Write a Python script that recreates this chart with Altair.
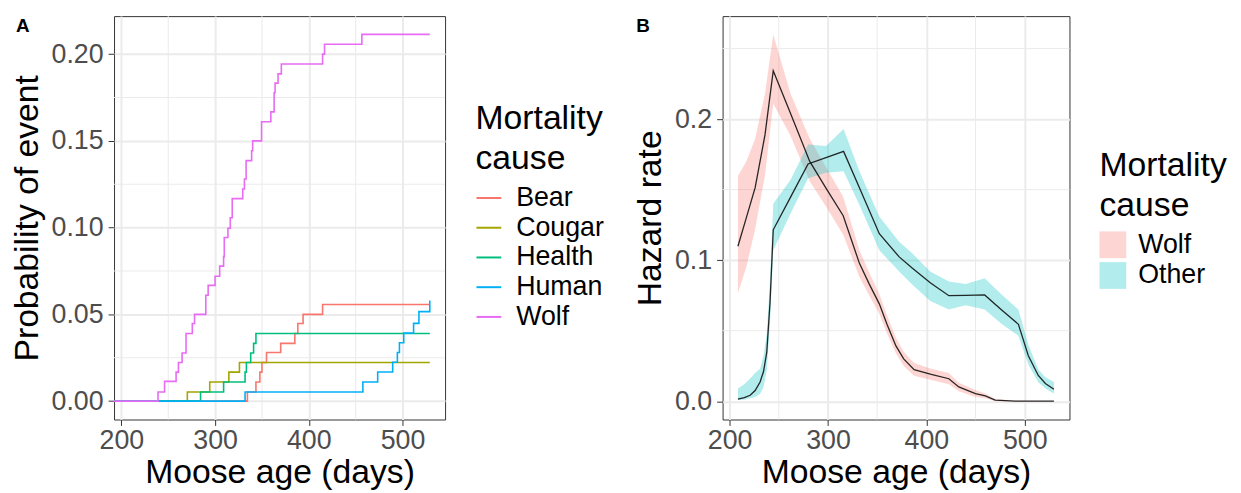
import altair as alt
import pandas as pd

FONT = "Liberation Sans"

# ---------------- Panel A: cumulative incidence (step curves) ----------------
causes = ["Bear", "Cougar", "Health", "Human", "Wolf"]
cause_colors = ["#F8766D", "#A3A500", "#00BF7D", "#00B0F6", "#E76BF3"]

bear_age = [192.2, 334.5, 343.6, 347.8, 350.0, 354.9, 370.0, 385.1, 388.3, 393.9, 414.7, 529.1]
bear_p = [0, 0.0053, 0.0110, 0.0167, 0.0223, 0.0280, 0.0333, 0.0390, 0.0447, 0.0500, 0.0557, 0.0557]

cougar_age = [192.2, 270.4, 294.3, 314.7, 326.0, 529.1]
cougar_p = [0, 0.0053, 0.0110, 0.0167, 0.0223, 0.0223]

health_age = [192.2, 284.5, 309.1, 332.0, 333.4, 338.0, 341.1, 343.6, 529.1]
health_p = [0, 0.0053, 0.0110, 0.0167, 0.0223, 0.0277, 0.0333, 0.0390, 0.0390]

human_age = [192.2, 332.0, 457.7, 473.5, 489.5, 494.5, 496.7, 501.3, 511.8, 517.5, 529.1]
human_p = [0, 0.0053, 0.0110, 0.0168, 0.0224, 0.0280, 0.0336, 0.0392, 0.0448, 0.0516, 0.0580]

wolf_age = [192.2, 239.1, 246.1, 258.4, 260.9, 264.8, 269.0, 275.7, 278.1, 290.1, 292.6,
            300.0, 304.9, 309.1, 309.8, 313.7, 316.2, 318.3, 329.5, 331.3, 333.1, 339.0,
            340.1, 349.6, 359.5, 363.0, 364.0, 367.2, 370.7, 414.7, 416.8, 456.6, 529.1]
wolf_p = [0, 0.0053, 0.0114, 0.0167, 0.0223, 0.0277, 0.0390, 0.0447, 0.0500, 0.0610, 0.0667,
          0.0720, 0.0778, 0.0833, 0.0943, 0.0996, 0.1057, 0.1167, 0.1223, 0.1280, 0.1386, 0.1443,
          0.1500, 0.1610, 0.1667, 0.1777, 0.1833, 0.1886, 0.1943, 0.2000, 0.2057, 0.2114, 0.2114]

a_x_ticks = [200, 300, 400, 500]
a_y_ticks = [0, 0.05, 0.10, 0.15, 0.20]
a_x_minor = [250, 350, 450]
a_y_minor = [0.025, 0.075, 0.125, 0.175]

# ---------------- Panel B: hazard rates with ribbons ----------------
hz_series = ["Wolf", "Other"]
hz_fill = ["#F8766D", "#00BFC4"]

wolf_hz_age = [208.5, 217, 226, 236, 244.4, 262, 281.5, 298, 315.5, 332, 342, 352.2, 360,
               369.1, 377, 387.6, 405, 422.9, 433, 449.9, 460, 470, 490, 510, 529.7]
wolf_hz = [0.1098, 0.1300, 0.1514, 0.1888, 0.2343, 0.2040, 0.1700, 0.1510, 0.1315, 0.0977,
           0.0830, 0.0690, 0.0545, 0.0392, 0.0300, 0.0224, 0.0190, 0.0159, 0.0101, 0.0054,
           0.0038, 0.0007, 0.0, 0.0, 0.0]
wolf_lo = [0.0767, 0.095, 0.122, 0.160, 0.211, 0.188, 0.156, 0.138, 0.118, 0.088, 0.075,
           0.062, 0.048, 0.034, 0.025, 0.018, 0.015, 0.012, 0.007, 0.003, 0.002, 0.0, 0.0, 0.0, 0.0]
wolf_hi = [0.1596, 0.170, 0.186, 0.218, 0.260, 0.218, 0.186, 0.166, 0.145, 0.107, 0.091,
           0.076, 0.061, 0.045, 0.035, 0.027, 0.023, 0.020, 0.013, 0.008, 0.0055, 0.0015,
           0.0003, 0.0001, 0.0001]

other_hz_age = [208.5, 215, 220.9, 226, 231, 234.5, 237.8, 241.1, 244.4, 262, 279.8, 298,
                315.9, 332, 352.2, 372.4, 385.9, 404, 422.9, 440, 459.3, 476, 493.6, 503.7,
                513.8, 521, 529.7]
other_hz = [0.0014, 0.0025, 0.0042, 0.0075, 0.0136, 0.0210, 0.0346, 0.0697, 0.1215, 0.1447,
            0.1682, 0.1727, 0.1771, 0.1514, 0.1187, 0.1023, 0.0942, 0.0840, 0.0748, 0.0750,
            0.0753, 0.0650, 0.0545, 0.0322, 0.0182, 0.0125, 0.0084]
other_lo = [0.001, 0.001, 0.002, 0.003, 0.005, 0.010, 0.022, 0.055, 0.107, 0.133, 0.158,
            0.162, 0.163, 0.139, 0.107, 0.092, 0.0825, 0.071, 0.065, 0.068, 0.065, 0.055,
            0.0463, 0.026, 0.0135, 0.009, 0.0054]
other_hi = [0.0089, 0.012, 0.016, 0.020, 0.0229, 0.032, 0.048, 0.085, 0.140, 0.157, 0.182,
            0.181, 0.193, 0.163, 0.131, 0.113, 0.1047, 0.092, 0.0848, 0.083, 0.0872, 0.076,
            0.065, 0.040, 0.0225, 0.017, 0.0136]

b_x_ticks = [200, 300, 400, 500]
b_y_ticks = [0.0, 0.1, 0.2]
b_x_minor = [250, 350, 450]
b_y_minor = [0.05, 0.15, 0.25]

# ---------------- tables ----------------
rows = []
for name, ages, ps in [("Bear", bear_age, bear_p), ("Cougar", cougar_age, cougar_p),
                       ("Health", health_age, health_p), ("Human", human_age, human_p),
                       ("Wolf", wolf_age, wolf_p)]:
    for i, (a, p) in enumerate(zip(ages, ps)):
        rows.append({"cause": name, "age": a, "prob": p, "i": i})
dfA = pd.DataFrame(rows)

dfW = pd.DataFrame({"cause": "Wolf", "age": wolf_hz_age, "h": wolf_hz, "lo": wolf_lo, "hi": wolf_hi})
dfO = pd.DataFrame({"cause": "Other", "age": other_hz_age, "h": other_hz, "lo": other_lo, "hi": other_hi})

W_A, W_B, H = 334, 350, 407
A_XDOM = [192.2, 545.4]
A_YDOM = [-0.0106, 0.2219]
B_XDOM = [192.9, 545.5]
B_YDOM = [-0.013, 0.273]

GRID = "#EBEBEB"
TITLE_FS = 34
TICK_FS = 27
LAB_FS = 27


def x_axis(vals):
    return alt.Axis(values=vals, title="Moose age (days)", grid=True, gridColor=GRID, gridWidth=2,
                    tickColor="#333333", tickSize=6, labelPadding=2, labelFontSize=TICK_FS,
                    labelColor="#4D4D4D", titleFontSize=TITLE_FS, titleFontWeight="normal",
                    titleColor="black", domain=False, titleY=64, titleBaseline="alphabetic")


def y_axis(vals, fmt, title, tx):
    return alt.Axis(values=vals, format=fmt, title=title, grid=True, gridColor=GRID, gridWidth=2,
                    tickColor="#333333", tickSize=6, labelPadding=5, labelFontSize=TICK_FS,
                    labelColor="#4D4D4D", titleFontSize=TITLE_FS, titleFontWeight="normal",
                    titleColor="black", domain=False, titleX=tx, titleY=H / 2,
                    titleAngle=270, titleBaseline="middle", titleAlign="center")


# ---- Panel A ----
xA = alt.Scale(domain=A_XDOM, nice=False, zero=False)
yA = alt.Scale(domain=A_YDOM, nice=False, zero=False)
axA_x = x_axis(a_x_ticks)
axA_y = y_axis(a_y_ticks, ".2f", "Probability of event", -87.7)

minorAx = alt.Chart(pd.DataFrame({"v": a_x_minor})).mark_rule(color=GRID, strokeWidth=1).encode(
    x=alt.X("v:Q", scale=xA, axis=axA_x))
minorAy = alt.Chart(pd.DataFrame({"v": a_y_minor})).mark_rule(color=GRID, strokeWidth=1).encode(
    y=alt.Y("v:Q", scale=yA, axis=axA_y))

linesA = alt.Chart(dfA).mark_line(interpolate="step-after", strokeWidth=1.6).encode(
    x=alt.X("age:Q", scale=xA, axis=axA_x),
    y=alt.Y("prob:Q", scale=yA, axis=axA_y),
    color=alt.Color("cause:N", scale=alt.Scale(domain=causes, range=cause_colors),
                    legend=alt.Legend(title=["Mortality", "cause"], orient="none",
                                      legendX=364.7, legendY=87, padding=0,
                                      titleFontSize=TITLE_FS, titleFontWeight="normal",
                                      titleColor="black", titleLineHeight=40, titlePadding=9,
                                      labelFontSize=LAB_FS, labelColor="black",
                                      symbolType="stroke", symbolSize=625, symbolStrokeWidth=2,
                                      labelOffset=14, rowPadding=2)),
    order="i:Q",
)

labA = alt.Chart(pd.DataFrame({"t": ["A"]})).mark_text(
    fontSize=19, fontWeight="bold", align="left", baseline="alphabetic", color="black").encode(
    text="t:N", x=alt.value(-99), y=alt.value(16))

panelA = alt.layer(minorAx, minorAy, linesA, labA).properties(width=W_A, height=H)

# ---- Panel B ----
xB = alt.Scale(domain=B_XDOM, nice=False, zero=False)
yB = alt.Scale(domain=B_YDOM, nice=False, zero=False)
colB = alt.Scale(domain=hz_series, range=hz_fill)
axB_x = x_axis(b_x_ticks)
axB_y = y_axis(b_y_ticks, ".1f", "Hazard rate", -73)

minorBx = alt.Chart(pd.DataFrame({"v": b_x_minor})).mark_rule(color=GRID, strokeWidth=1).encode(
    x=alt.X("v:Q", scale=xB, axis=axB_x))
minorBy = alt.Chart(pd.DataFrame({"v": b_y_minor})).mark_rule(color=GRID, strokeWidth=1).encode(
    y=alt.Y("v:Q", scale=yB, axis=axB_y))

legB = alt.Legend(title=["Mortality", "cause"], orient="none", legendX=380.3, legendY=134.2,
                  padding=0, titleFontSize=TITLE_FS, titleFontWeight="normal", titleColor="black",
                  titleLineHeight=40, titlePadding=9, labelFontSize=LAB_FS, labelColor="black",
                  symbolType="square", symbolSize=729, symbolStrokeWidth=0, symbolOpacity=0.3,
                  labelOffset=12, rowPadding=3)


def ribbon(df):
    return alt.Chart(df).mark_area(opacity=0.3).encode(
        x=alt.X("age:Q", scale=xB, axis=axB_x),
        y=alt.Y("lo:Q", scale=yB, axis=axB_y),
        y2="hi:Q",
        color=alt.Color("cause:N", scale=colB, legend=legB),
    )


def hzline(df):
    return alt.Chart(df).mark_line(color="#111111", strokeWidth=1.3, opacity=0.9).encode(
        x=alt.X("age:Q", scale=xB, axis=axB_x),
        y=alt.Y("h:Q", scale=yB, axis=axB_y),
    )


labB = alt.Chart(pd.DataFrame({"t": ["B"]})).mark_text(
    fontSize=19, fontWeight="bold", align="left", baseline="alphabetic", color="black").encode(
    text="t:N", x=alt.value(-87), y=alt.value(16))

panelB = alt.layer(minorBx, minorBy, ribbon(dfW), ribbon(dfO), hzline(dfW), hzline(dfO), labB
                   ).properties(width=W_B, height=H)

chart = alt.hconcat(panelA, panelB, spacing=27).resolve_scale(color="independent").configure(
    font=FONT).configure_view(stroke="#333333", strokeWidth=1).properties(
    padding={"left": 1, "top": 5, "right": 5, "bottom": 5})

chart.save("out.html", embed_options={"renderer": "svg", "actions": False})
